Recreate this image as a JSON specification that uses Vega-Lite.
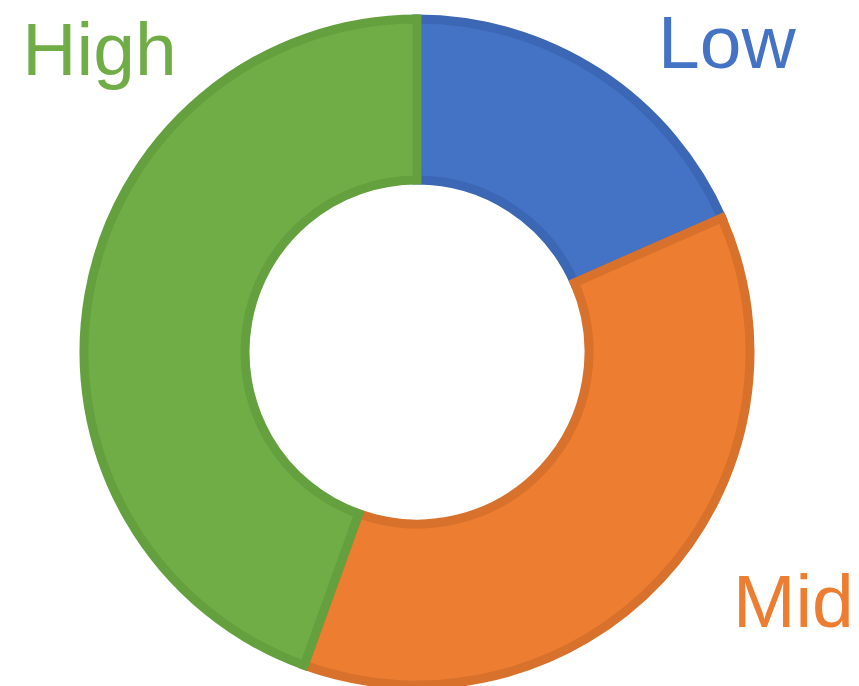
{
  "$schema": "https://vega.github.io/schema/vega-lite/v6.json",
  "width": 834,
  "height": 668,
  "autosize": {"type": "none"},
  "padding": {"left": 0, "top": 18, "right": 25, "bottom": 0},
  "background": "white",
  "config": {"view": {"stroke": null}},
  "data": {"values": [
    {"cat": "Low", "value": 18.4, "rank": 1},
    {"cat": "Mid", "value": 37.1, "rank": 2},
    {"cat": "High", "value": 44.5, "rank": 3}
  ]},
  "encoding": {
    "theta": {"field": "value", "type": "quantitative", "stack": true},
    "order": {"field": "rank", "type": "quantitative"}
  },
  "layer": [
    {
      "mark": {"type": "arc", "innerRadius": 172, "outerRadius": 333, "strokeWidth": 9, "strokeJoin": "miter"},
      "encoding": {
        "color": {"field": "cat", "type": "nominal", "legend": null,
          "scale": {"domain": ["Low", "Mid", "High"], "range": ["#4472C4", "#ED7D31", "#70AD47"]}},
        "stroke": {"field": "cat", "type": "nominal", "legend": null,
          "scale": {"domain": ["Low", "Mid", "High"], "range": ["#3B67B5", "#D7712C", "#64A03D"]}}
      }
    },
    {
      "mark": {"type": "text", "radius": 300, "dx": 146, "dy": -33, "align": "center", "baseline": "alphabetic", "font": "Liberation Sans", "fontSize": 75, "color": "#4472C4"},
      "encoding": {"text": {"condition": {"test": "datum.cat === 'Low'", "field": "cat"}, "value": ""}}
    },
    {
      "mark": {"type": "text", "radius": 300, "dx": 157, "dy": 70, "align": "center", "baseline": "alphabetic", "font": "Liberation Sans", "fontSize": 75, "color": "#ED7D31"},
      "encoding": {"text": {"condition": {"test": "datum.cat === 'Mid'", "field": "cat"}, "value": ""}}
    },
    {
      "mark": {"type": "text", "radius": 300, "dx": -22, "dy": -225, "align": "center", "baseline": "alphabetic", "font": "Liberation Sans", "fontSize": 75, "color": "#70AD47"},
      "encoding": {"text": {"condition": {"test": "datum.cat === 'High'", "field": "cat"}, "value": ""}}
    }
  ]
}
